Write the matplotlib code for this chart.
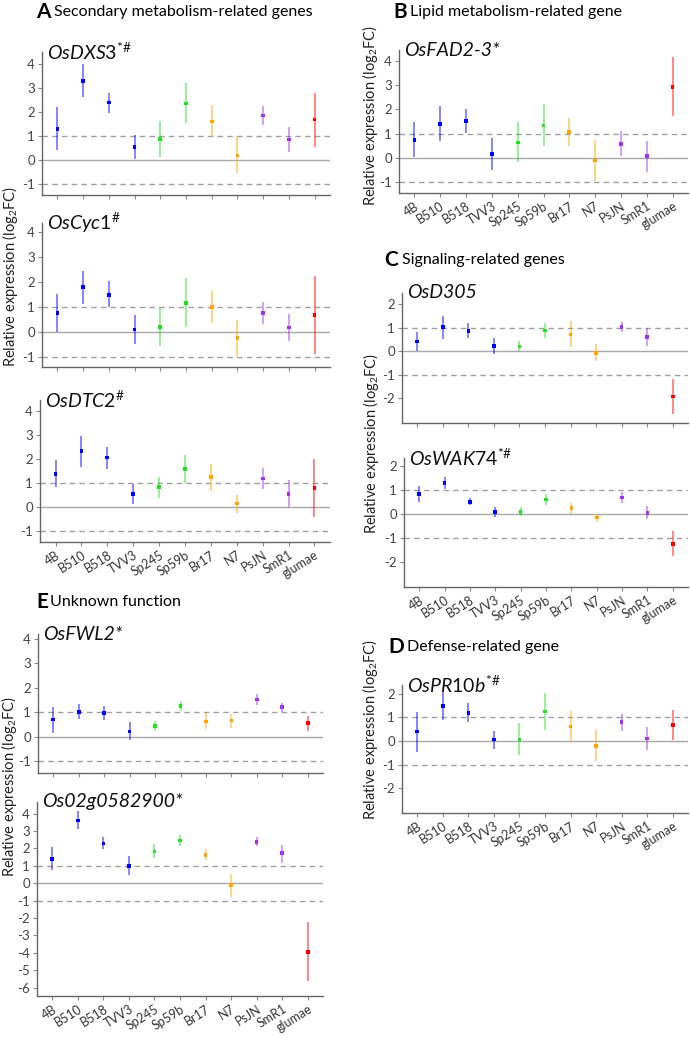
import matplotlib
matplotlib.use('Agg')
from matplotlib import pyplot as plt
import numpy as np

plt.rcParams['font.family'] = ['Lato', 'DejaVu Sans']
plt.rcParams['mathtext.fontset'] = 'custom'
plt.rcParams['mathtext.rm'] = 'Lato'
plt.rcParams['mathtext.it'] = 'Lato:italic'
plt.rcParams['mathtext.bf'] = 'Lato:bold'

strains = ['4B', 'B510', 'B518', 'TVV3', 'Sp245', 'Sp59b', 'Br17', 'N7', 'PsJN', 'SmR1', 'glumae']

# log2 fold change: mean, lower and upper end of the interval
dxs3_mean = [1.29, 3.29, 2.39, 0.53, 0.86, 2.36, 1.61, 0.19, 1.85, 0.85, 1.69]
dxs3_lo = [0.42, 2.64, 1.97, 0.04, 0.14, 1.56, 1.00, -0.56, 1.46, 0.35, 0.56]
dxs3_hi = [2.19, 3.99, 2.80, 1.04, 1.64, 3.19, 2.29, 0.94, 2.25, 1.36, 2.81]

cyc1_mean = [0.75, 1.79, 1.49, 0.10, 0.20, 1.16, 1.00, -0.25, 0.75, 0.18, 0.68]
cyc1_lo = [0.00, 1.14, 1.00, -0.48, -0.55, 0.20, 0.37, -0.96, 0.32, -0.37, -0.86]
cyc1_hi = [1.51, 2.45, 2.03, 0.70, 0.99, 2.18, 1.63, 0.48, 1.22, 0.73, 2.23]

dtc2_mean = [1.37, 2.33, 2.06, 0.54, 0.82, 1.57, 1.24, 0.14, 1.19, 0.54, 0.79]
dtc2_lo = [0.82, 1.68, 1.60, 0.13, 0.38, 1.01, 0.68, -0.26, 0.76, 0.00, -0.40]
dtc2_hi = [1.96, 2.96, 2.49, 0.96, 1.26, 2.17, 1.78, 0.50, 1.61, 1.12, 2.00]

fad23_mean = [0.75, 1.41, 1.52, 0.16, 0.64, 1.34, 1.07, -0.10, 0.58, 0.08, 2.92]
fad23_lo = [0.04, 0.68, 1.03, -0.48, -0.16, 0.48, 0.48, -0.96, 0.07, -0.59, 1.74]
fad23_hi = [1.47, 2.15, 2.01, 0.82, 1.47, 2.23, 1.64, 0.75, 1.10, 0.71, 4.15]

d305_mean = [0.40, 1.01, 0.86, 0.21, 0.19, 0.87, 0.71, -0.07, 1.03, 0.60, -1.93]
d305_lo = [-0.01, 0.53, 0.57, -0.14, -0.01, 0.57, 0.17, -0.44, 0.81, 0.20, -2.69]
d305_hi = [0.79, 1.49, 1.20, 0.57, 0.43, 1.20, 1.27, 0.29, 1.23, 0.96, -1.19]

wak74_mean = [0.83, 1.29, 0.50, 0.08, 0.08, 0.60, 0.24, -0.15, 0.69, 0.04, -1.25]
wak74_lo = [0.50, 1.04, 0.36, -0.13, -0.10, 0.36, 0.01, -0.35, 0.46, -0.21, -1.76]
wak74_hi = [1.15, 1.53, 0.67, 0.28, 0.28, 0.83, 0.46, 0.00, 0.90, 0.32, -0.69]

pr10b_mean = [0.40, 1.49, 1.19, 0.06, 0.07, 1.26, 0.61, -0.21, 0.80, 0.11, 0.67]
pr10b_lo = [-0.46, 0.90, 0.79, -0.33, -0.60, 0.47, 0.00, -0.84, 0.44, -0.39, 0.04]
pr10b_hi = [1.24, 2.07, 1.61, 0.44, 0.76, 2.04, 1.29, 0.47, 1.14, 0.59, 1.33]

fwl2_mean = [0.70, 1.01, 0.97, 0.22, 0.45, 1.26, 0.63, 0.66, 1.53, 1.21, 0.55]
fwl2_lo = [0.16, 0.71, 0.68, -0.14, 0.23, 1.05, 0.32, 0.37, 1.30, 1.01, 0.25]
fwl2_hi = [1.23, 1.33, 1.27, 0.59, 0.64, 1.47, 0.96, 0.93, 1.75, 1.37, 0.85]

os02g_mean = [1.41, 3.61, 2.29, 0.99, 1.82, 2.46, 1.63, -0.11, 2.39, 1.72, -3.94]
os02g_lo = [0.77, 3.12, 1.96, 0.46, 1.45, 2.15, 1.34, -0.79, 2.15, 1.19, -5.60]
os02g_hi = [2.06, 4.13, 2.64, 1.56, 2.23, 2.79, 1.96, 0.53, 2.64, 2.18, -2.22]

strain_colors = ['#0000ff'] * 4 + ['#22e022'] * 2 + ['#ffa500'] * 2 + ['#a033f0'] * 2 + ['#ff0000']

W, H = 690, 1038
fig = plt.figure(figsize=(W / 100, H / 100), dpi=100)


def fx(x):
    return x / W


def fy(y):
    return 1 - y / H


def panel(l, t, r, b, mean, lo, hi, ylim, yticks, name, xlabels=False):
    ax = fig.add_axes([fx(l), fy(b), fx(r - l), (b - t) / H])
    x = np.arange(len(strains))
    ax.axhline(0, color='#a8a8a8', lw=1, zorder=1)
    for yv in (1, -1):
        ax.axhline(yv, color='#a0a0a0', lw=1, ls=(0, (4, 3)), zorder=1)
    ax.vlines(x, lo, hi, colors=strain_colors, lw=1.1, alpha=0.6, zorder=2)
    ax.scatter(x, mean, marker='s', s=7, c=strain_colors, zorder=3, linewidths=0)
    ax.set_xlim(-0.6, 10.6)
    ax.set_ylim(*ylim)
    ax.set_yticks(yticks)
    ax.set_yticklabels([str(v) for v in yticks], fontsize=9.5, color='#444444')
    ax.set_xticks(x)
    if xlabels:
        ax.set_xticklabels(strains, rotation=32, ha='right', rotation_mode='anchor',
                           fontsize=9, color='#333333')
    else:
        ax.set_xticklabels([])
    ax.tick_params(length=3, width=0.8, color='#888888', pad=2)
    ax.tick_params(axis='x', pad=2)
    for s in ('top', 'right'):
        ax.spines[s].set_visible(False)
    for s in ('left', 'bottom'):
        ax.spines[s].set_color('#666666')
        ax.spines[s].set_linewidth(1)
    fig.text(fx(l + 5), fy(t), name, fontsize=14, ha='left', va='center', color='#111111')
    return ax


def header(x_letter, x_text, y, letter, text):
    fig.text(fx(x_letter), fy(y), letter, fontsize=15, fontweight='bold', ha='left', va='center')
    fig.text(fx(x_text), fy(y), text, fontsize=11.5, ha='left', va='center')


def ylab(x, y, size=10.5):
    fig.text(fx(x), fy(y), 'Relative expression (log$_2$FC)', rotation=90,
             fontsize=size, ha='center', va='center', color='#222222')


# A
header(36, 54, 12, 'A', 'Secondary metabolism-related genes')
panel(42, 52, 330, 195, dxs3_mean, dxs3_lo, dxs3_hi, (-1.46, 4.5), [-1, 0, 1, 2, 3, 4],
      r'$\mathit{OsDXS3}^{*\#}$')
panel(42, 223, 330, 367, cyc1_mean, cyc1_lo, cyc1_hi, (-1.4, 4.36), [-1, 0, 1, 2, 3, 4],
      r'$\mathit{OsCyc1}^{\#}$')
panel(40, 400, 330, 542, dtc2_mean, dtc2_lo, dtc2_hi, (-1.46, 4.46), [-1, 0, 1, 2, 3, 4],
      r'$\mathit{OsDTC2}^{\#}$', xlabels=True)
ylab(10, 276)

# B
header(393, 410, 12, 'B', 'Lipid metabolism-related gene')
panel(399, 50, 688, 193, fad23_mean, fad23_lo, fad23_hi, (-1.44, 4.44), [-1, 0, 1, 2, 3, 4],
      'OsFAD2-3*', xlabels=True)
ylab(370, 115)

# C
header(384, 402, 260, 'C', 'Signaling-related genes')
panel(402, 293, 688, 423, d305_mean, d305_lo, d305_hi, (-3.06, 2.47), [-2, -1, 0, 1, 2],
      'OsD305')
panel(404, 458, 688, 587, wak74_mean, wak74_lo, wak74_hi, (-3.04, 2.33), [-2, -1, 0, 1, 2],
      r'$\mathit{OsWAK74}^{*\#}$', xlabels=True)
ylab(371, 443)

# D
header(388, 407, 647, 'D', 'Defense-related gene')
panel(402, 685, 688, 813, pr10b_mean, pr10b_lo, pr10b_hi, (-3.06, 2.38), [-2, -1, 0, 1, 2],
      r'$\mathit{OsPR10b}^{*\#}$', xlabels=True)
ylab(370, 729)

# E
header(36, 50, 602, 'E', 'Unknown function')
panel(38, 634, 323, 773, fwl2_mean, fwl2_lo, fwl2_hi, (-1.48, 4.2), [-1, 0, 1, 2, 3, 4],
      'OsFWL2*')
panel(37, 802, 323, 996, os02g_mean, os02g_lo, os02g_hi, (-6.48, 4.67),
      [-6, -5, -4, -3, -2, -1, 0, 1, 2, 3, 4], 'Os02g0582900*', xlabels=True)
ylab(9, 786)

# italic for the plain gene names
for t in fig.texts:
    if t.get_text() in ('OsFAD2-3*', 'OsD305', 'OsFWL2*', 'Os02g0582900*'):
        t.set_style('italic')

fig.savefig('out.png', dpi=100)
